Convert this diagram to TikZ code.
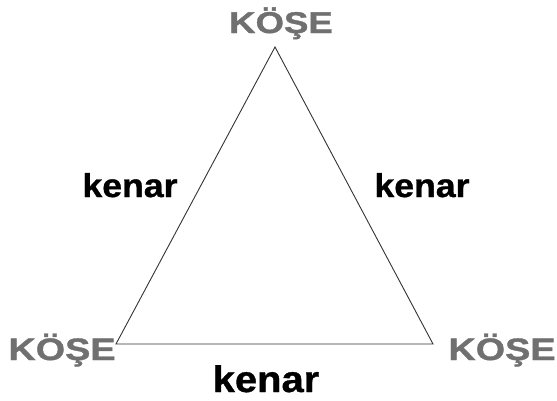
\documentclass[tikz,border=0pt]{standalone}
\usepackage{fontspec}
\setmainfont{Liberation Sans}
\newfontfamily\kosefont[FakeStretch=1.22,FakeBold=1.2]{Liberation Sans}
\newfontfamily\kenarfont[FakeStretch=1.08,FakeBold=1]{Liberation Sans}
\usepackage{xcolor}
\definecolor{kosegray}{HTML}{707070}

\begin{document}
\begin{tikzpicture}[x=1pt, y=-1pt,
    kose/.style={text=kosegray, font=\kosefont\bfseries\fontsize{31}{31}\selectfont, inner sep=0pt, anchor=base},
    kenar/.style={text=black, font=\kenarfont\bfseries\fontsize{33}{33}\selectfont, inner sep=0pt, anchor=base}]
    \useasboundingbox (0, 0) rectangle (557, 400);

    \coordinate (A) at (275, 47);
    \coordinate (B) at (116, 344);
    \coordinate (C) at (433, 344);
    \draw[line width=0.9pt, black!80] (A) -- (B) -- (C) -- cycle;

    \node[kose, font=\kosefont\bfseries\fontsize{30}{30}\selectfont] (topkose) at (281, 33) {KÖŞE};
    \node[kose] (leftkose) at (62, 360) {KÖŞE};
    \node[kose] (rightkose) at (502, 360) {KÖŞE};

    \node[kenar] (leftkenar) at (130, 197) {kenar};
    \node[kenar] (rightkenar) at (422, 197) {kenar};
    \node[kenar, font=\kenarfont\bfseries\fontsize{37}{37}\selectfont] (bottomkenar) at (266, 392) {kenar};
\end{tikzpicture}
\end{document}
